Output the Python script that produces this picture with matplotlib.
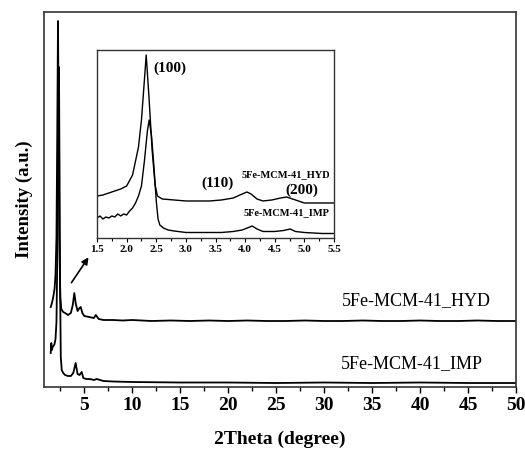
"""XRD patterns of 5Fe-MCM-41 (HYD / IMP) with low-angle inset."""
import matplotlib

matplotlib.use("Agg")
import matplotlib.pyplot as plt
from matplotlib.ticker import MultipleLocator

plt.rcParams["font.family"] = ["Liberation Serif", "DejaVu Serif"]

# main panel, values (offset already included)
hyd_x = [1.5, 1.6, 1.7, 1.8, 1.9, 2.0, 2.1, 2.18, 2.26, 2.33, 2.4, 2.5, 2.6, 2.8,
         3.0, 3.3, 3.6, 3.8, 3.96, 4.1, 4.3, 4.5, 4.63, 4.8, 5.0, 5.5, 6.0, 6.2,
         6.5, 7.0, 8, 9, 10, 12, 14, 16, 18, 20, 22, 24, 26, 28, 30, 32, 34, 36,
         38, 40, 42, 44, 46, 48, 50]
hyd_y = [80, 83, 87, 92, 98, 112, 150, 250, 366, 260, 150, 90, 78, 75,
         74, 72, 74, 82, 94, 84, 76, 79, 80, 74, 71, 70, 69, 72,
         68, 67, 67, 66.5, 67, 66, 66.5, 66, 66.5, 66, 66.5, 66, 66, 66.5, 66, 66,
         66.5, 66, 66, 66.5, 66, 66, 66.5, 66, 66]

imp_x = [1.5, 1.56, 1.62, 1.7, 1.8, 1.9, 2.0, 2.1, 2.2, 2.3, 2.36, 2.42, 2.48,
         2.55, 2.65, 2.8, 3.0, 3.3, 3.6, 3.85, 4.1, 4.3, 4.5, 4.73, 4.9, 5.2, 5.6,
         6.0, 6.3, 7, 8, 10, 15, 20, 25, 30, 35, 40, 45, 50]
imp_y = [34, 44, 37, 40, 41, 43, 48, 65, 140, 260, 320, 220, 100,
         30, 17, 14, 12, 11, 11, 14, 24, 13, 12, 15, 9, 8, 8,
         7, 8, 6, 5.5, 5, 4.5, 4.5, 4, 4.5, 4, 4.5, 4, 4]

# inset, 1.5-5.5 degrees
ins_hyd_x = [1.5, 1.6, 1.7, 1.8, 1.9, 2.0, 2.1, 2.2, 2.25, 2.3, 2.33, 2.38, 2.43,
             2.48, 2.52, 2.6, 2.8, 3.0, 3.2, 3.4, 3.6, 3.8, 3.95, 4.03, 4.1, 4.2,
             4.3, 4.45, 4.6, 4.7, 4.8, 4.9, 5.0, 5.2, 5.5]
ins_hyd_y = [45, 46, 48, 50, 52, 55, 66, 94, 121, 161, 186, 141, 91,
             56, 45, 42, 41, 40, 40, 40, 41, 43, 47, 49, 47, 42,
             40, 41, 43, 44, 42, 40, 38, 38, 38]
ins_imp_x = [1.5, 1.55, 1.6, 1.65, 1.7, 1.75, 1.8, 1.85, 1.9, 1.95, 2.0, 2.05,
             2.1, 2.15, 2.2, 2.25, 2.3, 2.35, 2.38, 2.42, 2.46, 2.5, 2.53, 2.56,
             2.62, 2.7, 2.8, 3.0, 3.3, 3.6, 3.8, 3.95, 4.12, 4.2, 4.3, 4.5, 4.65,
             4.76, 4.85, 5.0, 5.3, 5.5]
ins_imp_y = [23, 25, 22, 24, 23, 25, 24, 27, 25, 27, 26, 30,
             33, 38, 45, 55, 80, 110, 121, 105, 75, 40, 22, 16,
             13, 11, 10, 8.5, 8.5, 8.5, 9.5, 11, 15, 12, 9.5, 9.5, 10.5,
             12, 9.5, 8.5, 7.5, 7.5]

fig = plt.figure(figsize=(5.25, 4.51), dpi=100)
ax = fig.add_axes([0.0838, 0.1419, 0.899, 0.8315])
ax.plot(hyd_x, hyd_y, color="black", lw=1.3)
ax.plot(imp_x, imp_y, color="black", lw=1.3)
ax.set_xlim(0.8, 50)
ax.set_ylim(0, 375)
ax.set_yticks([])
ax.xaxis.set_major_locator(MultipleLocator(5))
ax.xaxis.set_minor_locator(MultipleLocator(2.5))
ax.tick_params(axis="x", which="major", direction="out", length=4, width=1,
               labelsize=14, pad=3)
ax.tick_params(axis="x", which="minor", direction="out", length=3, width=1)
for lab in ax.get_xticklabels():
    lab.set_fontweight("bold")
ax.set_xticks([5, 10, 15, 20, 25, 30, 35, 40, 45, 50])
ax.set_xticklabels(["5", "10", "15", "20", "25", "30", "35", "40", "45", "50"],
                   fontweight="bold")
for s in ax.spines.values():
    s.set_linewidth(1.2)
    s.set_color("#333333")
ax.set_xlabel("2Theta (degree)", fontsize=14, fontweight="bold", labelpad=12)
ax.set_ylabel("Intensity (a.u.)", fontsize=13.5, fontweight="bold", labelpad=8)
ax.text(39.6, 86, "5Fe-MCM-41_HYD", fontsize=13, ha="center", va="center")
ax.text(39.2, 23, "5Fe-MCM-41_IMP", fontsize=13, ha="center", va="center")
ax.annotate("", xy=(5.6, 132), xytext=(3.5, 102),
            arrowprops=dict(arrowstyle="-|>", color="black", lw=1.2,
                            mutation_scale=10))

ins = fig.add_axes([0.1848, 0.4723, 0.4514, 0.4169])
ins.plot(ins_hyd_x, ins_hyd_y, color="black", lw=1.0)
ins.plot(ins_imp_x, ins_imp_y, color="black", lw=1.0)
ins.set_xlim(1.5, 5.5)
ins.set_ylim(3, 191)
ins.set_yticks([])
ins.xaxis.set_major_locator(MultipleLocator(0.5))
ins.xaxis.set_minor_locator(MultipleLocator(0.25))
ins.tick_params(axis="x", which="major", direction="out", length=3, width=0.8,
                labelsize=8, pad=2)
ins.tick_params(axis="x", which="minor", direction="out", length=2, width=0.8)
ins.set_xticks([1.5, 2.0, 2.5, 3.0, 3.5, 4.0, 4.5, 5.0, 5.5])
ins.set_xticklabels(["1.5", "2.0", "2.5", "3.0", "3.5", "4.0", "4.5", "5.0", "5.5"],
                    fontweight="bold")
for s in ins.spines.values():
    s.set_linewidth(1.0)
    s.set_color("#333333")
ins.text(2.45, 173, "(100)", fontsize=11, fontweight="bold", va="center")
ins.text(3.53, 58, "(110)", fontsize=11, fontweight="bold", ha="center", va="center")
ins.text(4.96, 51, "(200)", fontsize=11, fontweight="bold", ha="center", va="center")
ins.text(5.43, 66, "5Fe-MCM-41_HYD", fontsize=7.5, fontweight="bold",
         ha="right", va="center")
ins.text(5.43, 28, "5Fe-MCM-41_IMP", fontsize=7.5, fontweight="bold",
         ha="right", va="center")

fig.savefig("out.png", dpi=100)
